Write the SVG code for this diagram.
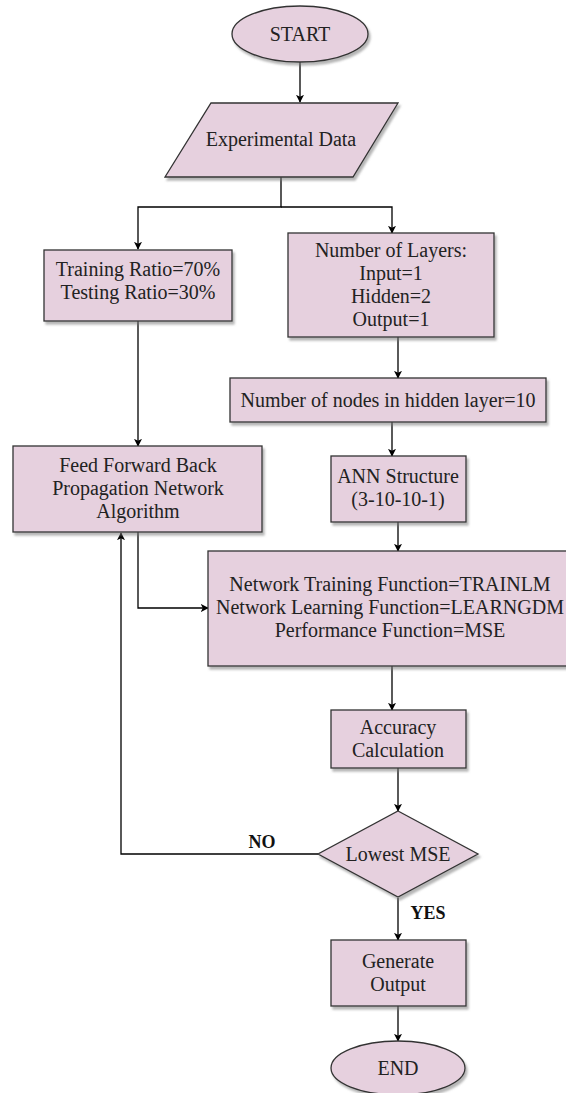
<svg xmlns="http://www.w3.org/2000/svg" width="566" height="1093" viewBox="0 0 566 1093">
<defs>
<filter id="sh" x="-10%" y="-10%" width="130%" height="140%">
<feDropShadow dx="2" dy="3" stdDeviation="1.2" flood-color="#7a7a7a" flood-opacity="0.55"/>
</filter>
<marker id="arr" viewBox="0 0 10 10" refX="9" refY="5" markerWidth="8" markerHeight="8" markerUnits="userSpaceOnUse" orient="auto">
<path d="M0,0 L10,5 L0,10 L2.5,5 Z" fill="#000"/>
</marker>
<style>
.n{fill:#e6d0de;stroke:#333;stroke-width:1.3;filter:url(#sh)}
.t{font-family:"Liberation Serif","Times New Roman",serif;font-size:20px;fill:#222;text-anchor:middle}
.l{font-family:"Liberation Serif","Times New Roman",serif;font-size:18px;font-weight:bold;fill:#111;text-anchor:middle}
.c{fill:none;stroke:#000;stroke-width:1.3}
</style>
</defs>
<rect width="566" height="1093" fill="#fff"/>
<g id="connectors" class="conns">
<path class="c" d="M300,62 V102" marker-end="url(#arr)"/>
<path class="c" d="M281,177 V207 H138 V249" marker-end="url(#arr)"/>
<path class="c" d="M281,207 H392 V233" marker-end="url(#arr)"/>
<path class="c" d="M398,337 V378" marker-end="url(#arr)"/>
<path class="c" d="M392,422 V456" marker-end="url(#arr)"/>
<path class="c" d="M138,321 V446" marker-end="url(#arr)"/>
<path class="c" d="M398,522 V551" marker-end="url(#arr)"/>
<path class="c" d="M138,532 V608 H208" marker-end="url(#arr)"/>
<path class="c" d="M392,666 V710" marker-end="url(#arr)"/>
<path class="c" d="M398,768 V811" marker-end="url(#arr)"/>
<path class="c" d="M318,854 H121 V533" marker-end="url(#arr)"/>
<path class="c" d="M398,898 V940" marker-end="url(#arr)"/>
<path class="c" d="M398,1006 V1041" marker-end="url(#arr)"/>
<text class="l" x="262" y="848">NO</text>
<text class="l" x="428" y="919">YES</text>
</g>
<g id="start"><ellipse class="n" cx="300" cy="34" rx="68" ry="28"/><text class="t" x="300" y="41">START</text></g>
<g id="data"><polygon class="n" points="211,103 398,103 353,177 165,177"/><text class="t" x="281" y="146">Experimental Data</text></g>
<g id="training"><rect class="n" x="44" y="250" width="188" height="71"/><text class="t" x="138" y="276">Training Ratio=70%</text><text class="t" x="138" y="299">Testing Ratio=30%</text></g>
<g id="layers"><rect class="n" x="288" y="233" width="206" height="104"/><text class="t" x="391" y="257">Number of Layers:</text><text class="t" x="391" y="280">Input=1</text><text class="t" x="391" y="303">Hidden=2</text><text class="t" x="391" y="326">Output=1</text></g>
<g id="nodes"><rect class="n" x="230" y="378" width="316" height="44"/><text class="t" x="388" y="407">Number of nodes in hidden layer=10</text></g>
<g id="feed"><rect class="n" x="13" y="446" width="249" height="86"/><text class="t" x="138" y="472">Feed Forward Back</text><text class="t" x="138" y="495">Propagation Network</text><text class="t" x="138" y="518">Algorithm</text></g>
<g id="ann"><rect class="n" x="331" y="456" width="135" height="66"/><text class="t" x="398" y="483">ANN Structure</text><text class="t" x="398" y="506">(3-10-10-1)</text></g>
<g id="network"><rect class="n" x="208" y="551" width="364" height="115"/><text class="t" x="390" y="591">Network Training Function=TRAINLM</text><text class="t" x="390" y="614">Network Learning Function=LEARNGDM</text><text class="t" x="390" y="637">Performance Function=MSE</text></g>
<g id="accuracy"><rect class="n" x="331" y="710" width="135" height="58"/><text class="t" x="398" y="734">Accuracy</text><text class="t" x="398" y="757">Calculation</text></g>
<g id="lowest"><polygon class="n" points="398,811 478,854 398,897 318,854"/><text class="t" x="398" y="861">Lowest MSE</text></g>
<g id="generate"><rect class="n" x="331" y="940" width="135" height="66"/><text class="t" x="398" y="968">Generate</text><text class="t" x="398" y="991">Output</text></g>
<g id="end"><ellipse class="n" cx="398" cy="1068" rx="67" ry="27"/><text class="t" x="398" y="1075">END</text></g>
</svg>
